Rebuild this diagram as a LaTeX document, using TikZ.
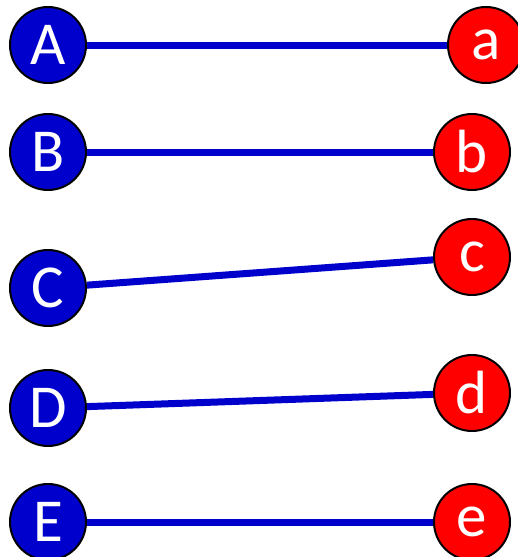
\documentclass[tikz,border=0pt]{standalone}
\usepackage{fontspec}
\setmainfont{Carlito}
\definecolor{lblue}{HTML}{0000CC}
\definecolor{rred}{HTML}{FF0000}

\begin{document}
\begin{tikzpicture}[x=1pt,y=-1pt,
  vtx/.style={circle,draw=black,line width=2pt,minimum size=76pt,inner sep=0pt,text=white,font=\fontsize{61}{61}\selectfont},
  lvtx/.style={vtx,fill=lblue},
  rvtx/.style={vtx,fill=rred},
  match/.style={draw=lblue,line width=7pt}]
  \useasboundingbox (0,0) rectangle (517,557);
  %left
  \node[lvtx] (A) at (48,45) {A};
  \node[lvtx] (B) at (48,152) {B};
  \node[lvtx] (C) at (48,288) {C};
  \node[lvtx] (D) at (48,408) {D};
  \node[lvtx] (E) at (48,522) {E};

  %right
  \node[rvtx] (a) at (486,45) {a};
  \node[rvtx] (b) at (472,152) {b};
  \node[rvtx] (c) at (472,257) {c};
  \node[rvtx] (d) at (472,393) {d};
  \node[rvtx] (e) at (472,522) {e};

  %edges
  \foreach \u/\v in {A/a,B/b,C/c,D/d,E/e}
    \draw[match] (\u) -- (\v);
\end{tikzpicture}
\end{document}
